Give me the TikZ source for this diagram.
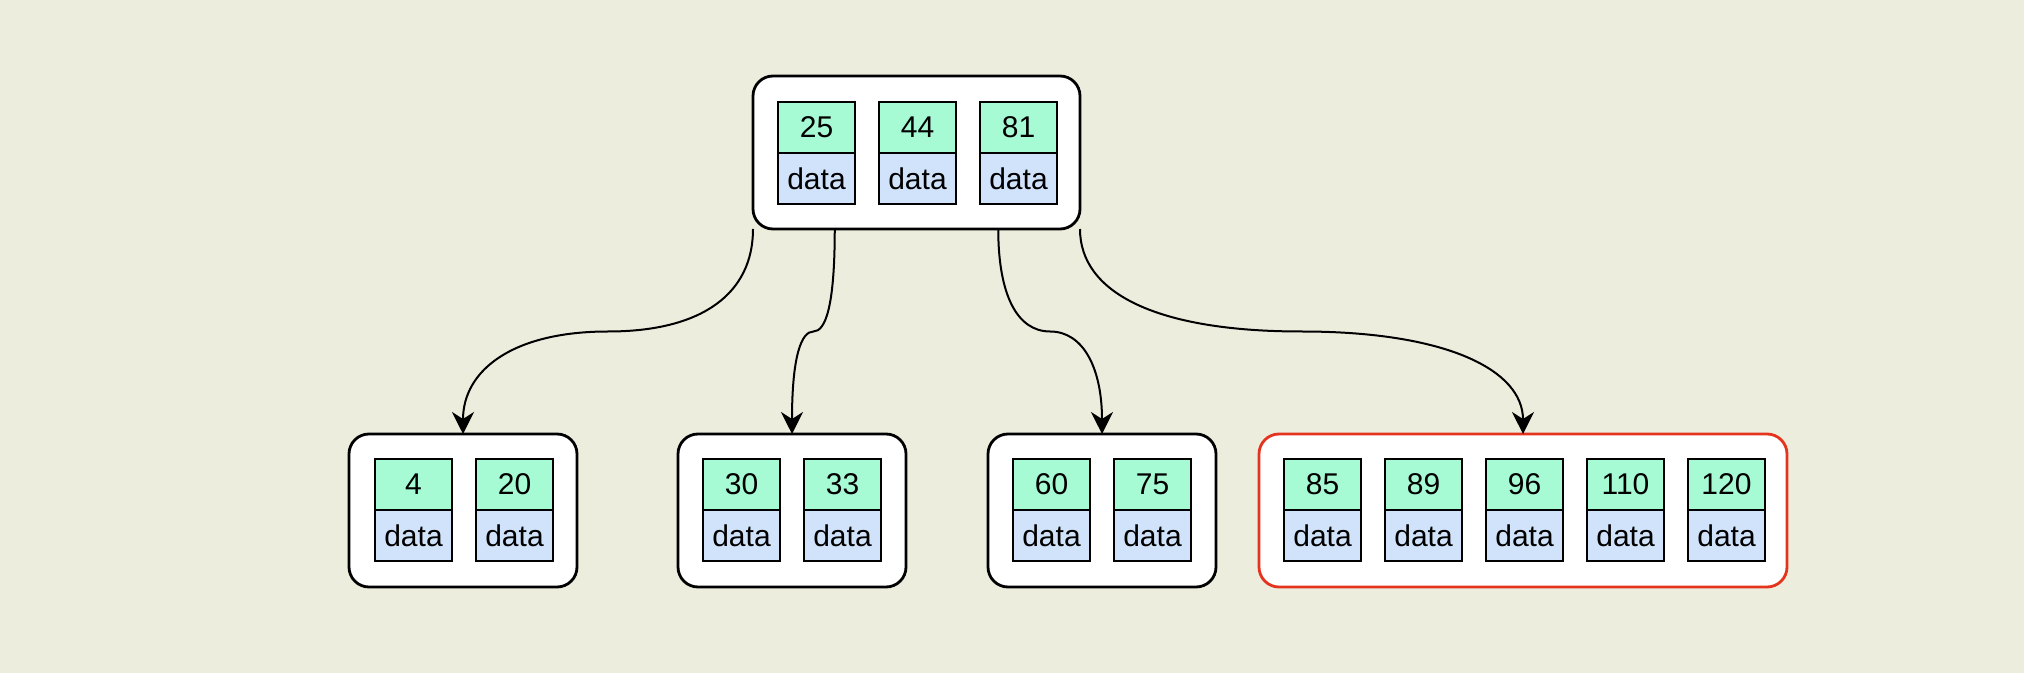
\documentclass[tikz,border=0pt]{standalone}
\usepackage{fontspec}
\setmainfont{Liberation Sans}
\usetikzlibrary{positioning,calc,arrows.meta}
\definecolor{bgbeige}{RGB}{237,237,222}
\definecolor{keygreen}{RGB}{166,250,212}
\definecolor{datablue}{RGB}{208,227,250}
\definecolor{leafred}{RGB}{228,52,30}
\tikzset{keycell/.style={draw=black,fill=keygreen,line width=1.2pt,minimum width=38.5pt,minimum height=25.5pt,inner sep=0pt,outer sep=0pt,font=\fontsize{15}{18}\selectfont}}
\tikzset{datacell/.style={keycell,fill=datablue}}
\tikzset{nodebox/.style={draw=black,fill=white,rounded corners=10pt,line width=1.4pt,inner sep=0pt,outer sep=0pt,minimum height=76.5pt}}
\tikzset{child/.style={draw=black,line width=1pt,-{Stealth[length=11pt,width=11pt,inset=3.5pt]}}}
\begin{document}
\begin{tikzpicture}[x=0.5pt,y=-0.5pt]
    \useasboundingbox (0,0) rectangle (2024,673);
    \fill[bgbeige] (0,0) rectangle (2024,673);
    % inner node and leaves
    \node[nodebox,minimum width=163.5pt] (root)  at (916.5,152.5) {};
    \node[nodebox,minimum width=114pt]   (leafa) at (463,510.5)   {};
    \node[nodebox,minimum width=114pt]   (leafb) at (792,510.5)   {};
    \node[nodebox,minimum width=114pt]   (leafc) at (1102,510.5)  {};
    \node[nodebox,minimum width=264pt,draw=leafred] (leafd) at (1523,510.5) {};
    % keys of the root
    \node[keycell] (k25) at (816.5,127.5)  {25};
    \node[keycell] (k44) at (917.5,127.5)  {44};
    \node[keycell] (k81) at (1018.5,127.5) {81};
    \node[datacell,below=0pt of k25] (d25) {data};
    \node[datacell,below=0pt of k44] (d44) {data};
    \node[datacell,below=0pt of k81] (d81) {data};
    % keys of the leaves
    \node[keycell] (k4)   at (413.5,484.5)  {4};
    \node[keycell] (k20)  at (514.5,484.5)  {20};
    \node[keycell] (k30)  at (741.5,484.5)  {30};
    \node[keycell] (k33)  at (842.5,484.5)  {33};
    \node[keycell] (k60)  at (1051.5,484.5) {60};
    \node[keycell] (k75)  at (1152.5,484.5) {75};
    \node[keycell] (k85)  at (1322.5,484.5) {85};
    \node[keycell] (k89)  at (1423.5,484.5) {89};
    \node[keycell] (k96)  at (1524.5,484.5) {96};
    \node[keycell] (k110) at (1625.5,484.5) {110};
    \node[keycell] (k120) at (1726.5,484.5) {120};
    \node[datacell,below=0pt of k4]   (d4)   {data};
    \node[datacell,below=0pt of k20]  (d20)  {data};
    \node[datacell,below=0pt of k30]  (d30)  {data};
    \node[datacell,below=0pt of k33]  (d33)  {data};
    \node[datacell,below=0pt of k60]  (d60)  {data};
    \node[datacell,below=0pt of k75]  (d75)  {data};
    \node[datacell,below=0pt of k85]  (d85)  {data};
    \node[datacell,below=0pt of k89]  (d89)  {data};
    \node[datacell,below=0pt of k96]  (d96)  {data};
    \node[datacell,below=0pt of k110] (d110) {data};
    \node[datacell,below=0pt of k120] (d120) {data};
    % pointers to the children
    \coordinate (ra) at (root.south west);
    \coordinate (rb) at ($(root.south west)!0.25!(root.south east)$);
    \coordinate (rc) at ($(root.south west)!0.75!(root.south east)$);
    \coordinate (rd) at (root.south east);
    \coordinate (ma) at ($(ra)!0.5!(leafa.north)$);
    \coordinate (mb) at ($(rb)!0.5!(leafb.north)$);
    \coordinate (mc) at ($(rc)!0.5!(leafc.north)$);
    \coordinate (md) at ($(rd)!0.5!(leafd.north)$);
    \draw[child] (ra) .. controls +(0,64) and +(95,0)  .. (ma) .. controls +(-95,0) and +(0,-64)  .. (leafa.north);
    \draw[child] (rb) .. controls +(0,78) and +(12,0)  .. (mb) .. controls +(-12,0) and +(0,-78)  .. (leafb.north);
    \draw[child] (rc) .. controls +(0,66) and +(-33,0) .. (mc) .. controls +(33,0) and +(0,-66)   .. (leafc.north);
    \draw[child] (rd) .. controls +(0,64) and +(-145,0) .. (md) .. controls +(145,0) and +(0,-64) .. (leafd.north);
\end{tikzpicture}
\end{document}
